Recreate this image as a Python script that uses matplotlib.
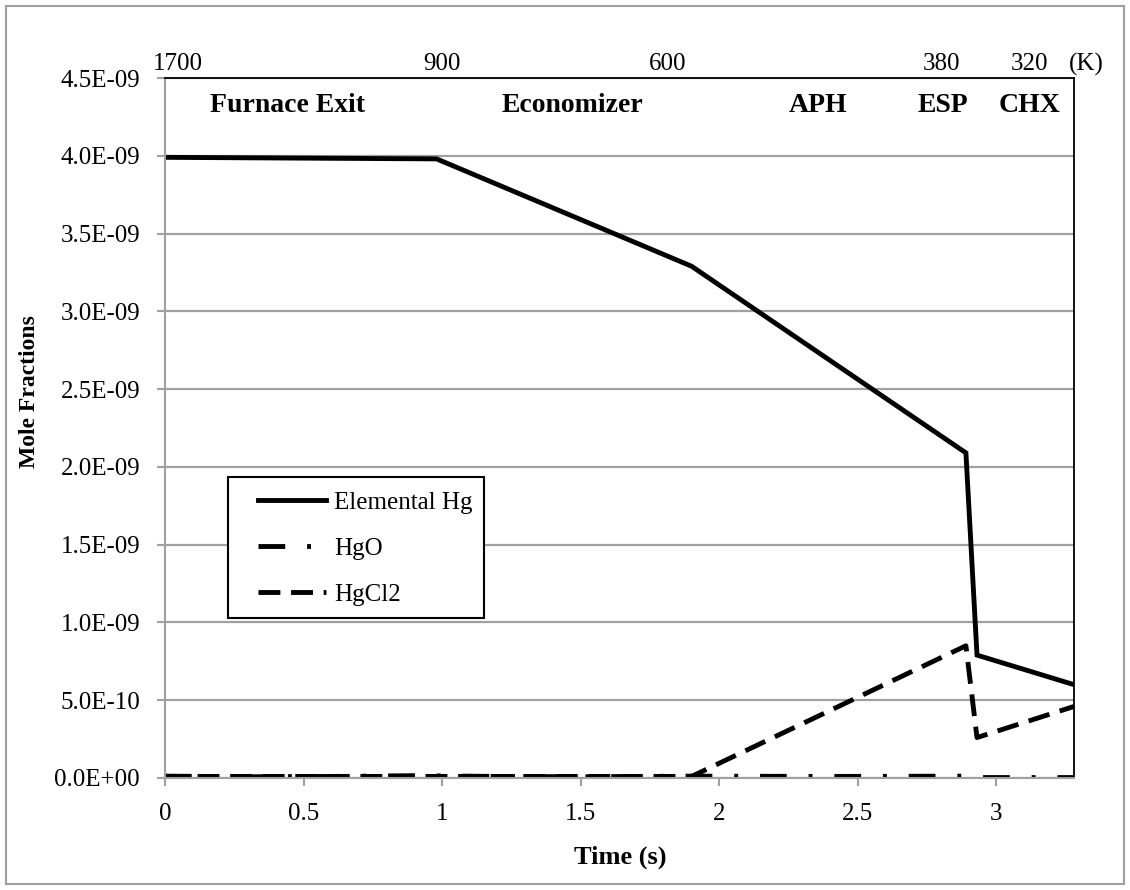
import matplotlib.pyplot as plt
import matplotlib.ticker as mticker
from matplotlib.patches import Rectangle

# residence time (s) and mole fractions
time_pts = [0.0, 0.98, 1.9, 2.89, 2.93, 3.28]
hg_elem = [3.99e-9, 3.98e-9, 3.29e-9, 2.09e-9, 0.79e-9, 0.60e-9]
hgcl2 = [0.01e-9, 0.01e-9, 0.01e-9, 0.85e-9, 0.26e-9, 0.46e-9]

hgo_time = [0.0, 0.3, 0.6, 0.9, 1.2, 1.5, 1.9, 2.4, 2.89, 2.95, 3.28]
hgo = [1.2e-11, 0.8e-11, 1.0e-11, 1.5e-11, 1.0e-11, 0.8e-11, 1.2e-11,
       1.0e-11, 1.2e-11, 0.3e-11, 0.3e-11]

# temperature markers along the top (K) and duct sections
temp_labels = ['1700', '900', '600', '380', '320', '(K)']
temp_px = [178, 442, 668, 942, 1030, 1086]
section_labels = ['Furnace Exit', 'Economizer', 'APH', 'ESP', 'CHX']
section_px = [287, 572, 818, 943, 1030]

W, H = 1130, 890
plt.rcParams['font.family'] = ['Liberation Serif', 'DejaVu Serif']

fig = plt.figure(figsize=(W / 100, H / 100), dpi=100)
ax = fig.add_axes([165 / W, 1 - 778 / H, (1074 - 165) / W, (778 - 78) / H])

lw = 3.5
ax.plot(time_pts, hg_elem, color='black', lw=lw, label='Elemental Hg',
        solid_joinstyle='miter')
ax.plot(hgo_time, hgo, color='black', lw=lw, label='HgO',
        linestyle=(0, (5.5, 4.5, 0.8, 4.5)))
ax.plot(time_pts, hgcl2, color='black', lw=lw, label='HgCl2',
        linestyle=(0, (4.5, 2.2)))

ax.set_xlim(0, 3.28)
ax.set_ylim(0, 4.5e-9)
ax.set_xticks([0, 0.5, 1, 1.5, 2, 2.5, 3])
ax.set_yticks([i * 0.5e-9 for i in range(10)])
ax.xaxis.set_major_formatter(mticker.FuncFormatter(lambda v, p: '%g' % v))
ax.yaxis.set_major_formatter(mticker.FuncFormatter(lambda v, p: format(v, '.1E')))

ax.grid(axis='y', color='#a0a0a0', lw=1.6)
ax.set_axisbelow(True)
for side in ['left', 'bottom']:
    ax.spines[side].set_color('#a0a0a0')
    ax.spines[side].set_linewidth(1.5)
for side in ['top', 'right']:
    ax.spines[side].set_color('black')
    ax.spines[side].set_linewidth(1.3)

ax.tick_params(axis='both', labelsize=18, color='#a0a0a0', width=1.5, length=6)
ax.tick_params(axis='y', pad=12)
ax.tick_params(axis='x', pad=12)

fig.text(620 / W, 1 - 857 / H, 'Time (s)', ha='center', va='center',
         fontsize=19, fontweight='bold')
fig.text(30 / W, 1 - 392 / H, 'Mole Fractions', ha='center', va='center',
         rotation=90, fontsize=17, fontweight='bold')

for lab, px in zip(temp_labels, temp_px):
    fig.text(px / W, 1 - 64 / H, lab, ha='center', va='center', fontsize=18)
for lab, px in zip(section_labels, section_px):
    fig.text(px / W, 1 - 105 / H, lab, ha='center', va='center',
             fontsize=20, fontweight='bold')

# legend without its own frame; the box is drawn separately so the
# handles can sit further in from the left edge, as in Excel
leg = ax.legend(loc='upper left', bbox_to_anchor=((258 - 165) / 909, (778 - 491) / 700),
                borderaxespad=0, borderpad=0, fontsize=18, frameon=False,
                handlelength=2.7, handletextpad=0.35, labelspacing=0.95)
leg.set_zorder(6)
box = Rectangle((228 / W, 1 - 618 / H), (484 - 228) / W, (618 - 477) / H,
                transform=fig.transFigure, facecolor='white',
                edgecolor='black', lw=1.5, zorder=5, clip_on=False)
ax.add_patch(box)

fig.patches.append(Rectangle((6 / W, 6 / H), (1124 - 6) / W, (884 - 6) / H,
                             transform=fig.transFigure, fill=False,
                             edgecolor='#a0a0a0', lw=1.5))

fig.savefig('out.png', dpi=100)
